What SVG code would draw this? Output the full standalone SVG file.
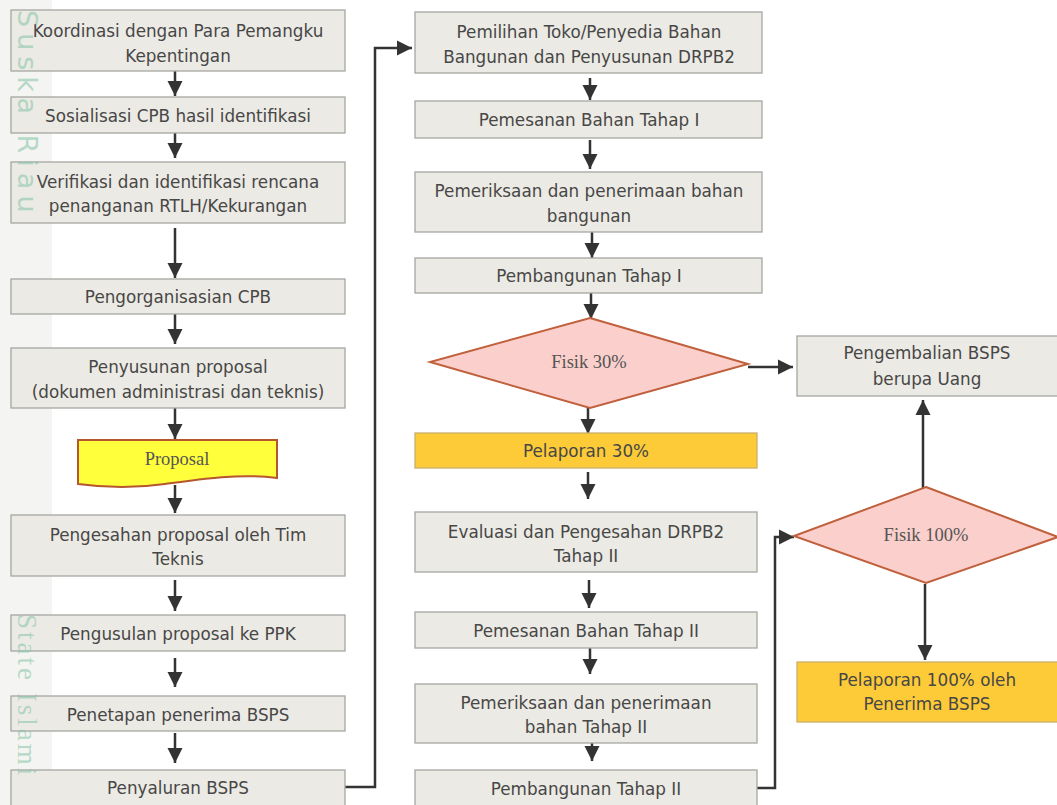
<svg xmlns="http://www.w3.org/2000/svg" width="1057" height="805" viewBox="0 0 1057 805">
<defs>
<style>
.box{fill:#ECEAE4;stroke:#A6A6A2;stroke-width:1.3}
.rep{fill:#FDCB37;stroke:#C9B06A;stroke-width:1.3}
.dia{fill:#FBCFCB;stroke:#C0603C;stroke-width:2}
.t{font-family:"DejaVu Sans",sans-serif;font-size:16.8px;fill:#474747;text-anchor:middle}
.s{font-family:"Liberation Serif",serif;font-size:18.5px;fill:#555;text-anchor:middle}
.c{fill:none;stroke:#333;stroke-width:2.5}
.wm{font-size:27px;fill:#8CC7AC;opacity:0.6}
</style>
<marker id="ah" markerUnits="userSpaceOnUse" markerWidth="16" markerHeight="16" refX="15" refY="8" orient="auto">
<path d="M0,0.5 L15,8 L0,15.5 Z" fill="#333"/>
</marker>
</defs>
<rect width="1057" height="805" fill="#ffffff"/>
<rect x="0" y="0" width="52" height="805" fill="#F4F4F2"/>
<g id="connectors">
<line class="c" x1="175" y1="71" x2="175" y2="96" marker-end="url(#ah)"/>
<line class="c" x1="175" y1="133" x2="175" y2="158" marker-end="url(#ah)"/>
<line class="c" x1="175" y1="228" x2="175" y2="278" marker-end="url(#ah)"/>
<line class="c" x1="175" y1="314" x2="175" y2="344" marker-end="url(#ah)"/>
<line class="c" x1="175" y1="408" x2="175" y2="439" marker-end="url(#ah)"/>
<line class="c" x1="175" y1="485" x2="175" y2="513" marker-end="url(#ah)"/>
<line class="c" x1="175" y1="580" x2="175" y2="611" marker-end="url(#ah)"/>
<line class="c" x1="175" y1="658" x2="175" y2="687" marker-end="url(#ah)"/>
<line class="c" x1="175" y1="733" x2="175" y2="763" marker-end="url(#ah)"/>
<path class="c" d="M345,787 H375 V48 H412" marker-end="url(#ah)"/>
<line class="c" x1="590" y1="78" x2="590" y2="100" marker-end="url(#ah)"/>
<line class="c" x1="590" y1="140" x2="590" y2="169" marker-end="url(#ah)"/>
<line class="c" x1="592" y1="231" x2="592" y2="258" marker-end="url(#ah)"/>
<line class="c" x1="591" y1="293" x2="591" y2="319" marker-end="url(#ah)"/>
<line class="c" x1="588" y1="408" x2="588" y2="434" marker-end="url(#ah)"/>
<line class="c" x1="588" y1="472" x2="588" y2="499" marker-end="url(#ah)"/>
<line class="c" x1="589" y1="580" x2="589" y2="608" marker-end="url(#ah)"/>
<line class="c" x1="590" y1="648" x2="590" y2="674" marker-end="url(#ah)"/>
<line class="c" x1="592" y1="731" x2="592" y2="761" marker-end="url(#ah)"/>
<path class="c" d="M757,788 H775 V537 H794" marker-end="url(#ah)"/>
<line class="c" x1="748" y1="367" x2="793" y2="367" marker-end="url(#ah)"/>
<line class="c" x1="923" y1="488" x2="923" y2="400" marker-end="url(#ah)"/>
<line class="c" x1="925" y1="584" x2="925" y2="660" marker-end="url(#ah)"/>
</g>
<g id="n1"><rect class="box" x="11" y="10" width="334" height="61"/><text class="t" x="178" y="37">Koordinasi dengan Para Pemangku</text><text class="t" x="178" y="62">Kepentingan</text></g>
<g id="n2"><rect class="box" x="11" y="97" width="334" height="36"/><text class="t" x="178" y="122">Sosialisasi CPB hasil identifikasi</text></g>
<g id="n3"><rect class="box" x="11" y="162" width="334" height="61"/><text class="t" x="178" y="188">Verifikasi dan identifikasi rencana</text><text class="t" x="178" y="212">penanganan RTLH/Kekurangan</text></g>
<g id="n4"><rect class="box" x="11" y="279" width="334" height="35"/><text class="t" x="178" y="303">Pengorganisasian CPB</text></g>
<g id="n5"><rect class="box" x="11" y="348" width="334" height="60"/><text class="t" x="178" y="373">Penyusunan proposal</text><text class="t" x="178" y="398">(dokumen administrasi dan teknis)</text></g>
<g id="n6"><path d="M78,440 H277 V478 C240,473 200,479 165,484 C130,489 100,487 78,484 Z" fill="#FFFF3C" stroke="#B5562E" stroke-width="2"/><text class="s" x="177" y="465">Proposal</text></g>
<g id="n7"><rect class="box" x="11" y="515" width="334" height="61"/><text class="t" x="178" y="541">Pengesahan proposal oleh Tim</text><text class="t" x="178" y="565">Teknis</text></g>
<g id="n8"><rect class="box" x="11" y="615" width="334" height="36"/><text class="t" x="178" y="640">Pengusulan proposal ke PPK</text></g>
<g id="n9"><rect class="box" x="11" y="696" width="334" height="35"/><text class="t" x="178" y="721">Penetapan penerima BSPS</text></g>
<g id="n10"><rect class="box" x="11" y="770" width="334" height="40"/><text class="t" x="178" y="794">Penyaluran BSPS</text></g>
<g id="m1"><rect class="box" x="415" y="12" width="347" height="61"/><text class="t" x="589" y="38">Pemilihan Toko/Penyedia Bahan</text><text class="t" x="589" y="63">Bangunan dan Penyusunan DRPB2</text></g>
<g id="m2"><rect class="box" x="415" y="101" width="347" height="37"/><text class="t" x="589" y="126">Pemesanan Bahan Tahap I</text></g>
<g id="m3"><rect class="box" x="415" y="172" width="347" height="60"/><text class="t" x="589" y="197">Pemeriksaan dan penerimaan bahan</text><text class="t" x="589" y="222">bangunan</text></g>
<g id="m4"><rect class="box" x="415" y="258" width="347" height="35"/><text class="t" x="589" y="282">Pembangunan Tahap I</text></g>
<g id="m5"><polygon class="dia" points="590,318 748,364 590,408 430,362"/><text class="s" x="589" y="368">Fisik 30%</text></g>
<g id="m6"><rect class="rep" x="415" y="433" width="342" height="35"/><text class="t" x="586" y="457">Pelaporan 30%</text></g>
<g id="m7"><rect class="box" x="415" y="512" width="342" height="60"/><text class="t" x="586" y="538">Evaluasi dan Pengesahan DRPB2</text><text class="t" x="586" y="562">Tahap II</text></g>
<g id="m8"><rect class="box" x="415" y="612" width="342" height="36"/><text class="t" x="586" y="637">Pemesanan Bahan Tahap II</text></g>
<g id="m9"><rect class="box" x="415" y="684" width="342" height="59"/><text class="t" x="586" y="709">Pemeriksaan dan penerimaan</text><text class="t" x="586" y="733">bahan Tahap II</text></g>
<g id="m10"><rect class="box" x="415" y="770" width="342" height="40"/><text class="t" x="586" y="795">Pembangunan Tahap II</text></g>
<g id="r1"><rect class="box" x="797" y="336" width="262" height="60"/><text class="t" x="927" y="359">Pengembalian BSPS</text><text class="t" x="927" y="385">berupa Uang</text></g>
<g id="r2"><polygon class="dia" points="926,487 1058,537 926,583 794,536"/><text class="s" x="926" y="541">Fisik 100%</text></g>
<g id="r3"><rect class="rep" x="797" y="662" width="262" height="60"/><text class="t" x="927" y="686">Pelaporan 100% oleh</text><text class="t" x="927" y="710">Penerima BSPS</text></g>
<g id="watermark">
<text class="wm" font-family="DejaVu Sans,sans-serif" transform="translate(18,10) rotate(90)" letter-spacing="6">Suska Riau</text>
<text class="wm" font-family="Liberation Serif,serif" transform="translate(18,614) rotate(90)" letter-spacing="3">State Islami</text>
</g>
</svg>
